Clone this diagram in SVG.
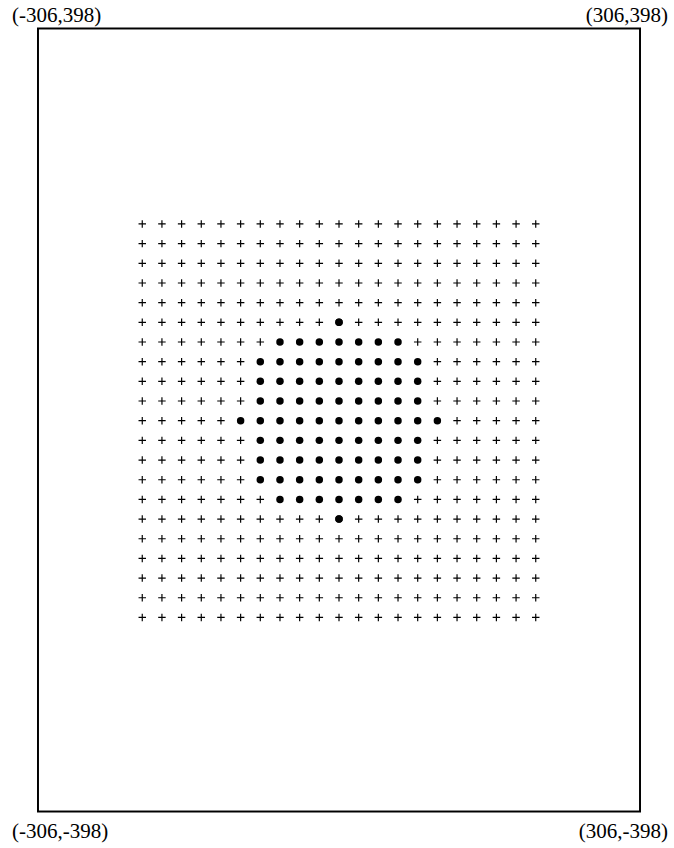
<svg xmlns="http://www.w3.org/2000/svg" width="674" height="848" viewBox="0 0 674 848">
<style>
.lbl{font-family:"Liberation Serif","Times New Roman",serif;font-size:21px;fill:#000}
.frame{fill:none;stroke:#000;stroke-width:2}
.pts{fill:none;stroke:none}
.cross{marker-start:url(#pl);marker-mid:url(#pl);marker-end:url(#pl)}
.dot{marker-start:url(#dt);marker-mid:url(#dt);marker-end:url(#dt)}
</style>
<defs>
<marker id="pl" markerUnits="userSpaceOnUse" markerWidth="10" markerHeight="10" refX="5" refY="5" orient="0" overflow="visible">
<path d="M1.2 5H8.8M5 1.2V8.8" stroke="#000" stroke-width="1.2" fill="none"/>
</marker>
<marker id="dt" markerUnits="userSpaceOnUse" markerWidth="10" markerHeight="10" refX="5" refY="5" orient="0" overflow="visible">
<circle cx="5" cy="5" r="3.8" fill="#000"/>
</marker>
</defs>
<rect width="674" height="848" fill="#fff"/>
<g id="plot" transform="translate(339,420) scale(0.9837)">
<rect id="frame" class="frame" x="-306" y="-398" width="612" height="796"/>
</g>
<g id="grid" transform="translate(339,420.7) scale(0.9837)">
<path id="crosses" class="pts cross" d="M-200 -200h20h20h20h20h20h20h20h20h20h20h20h20h20h20h20h20h20h20h20h20 M-200 -180h20h20h20h20h20h20h20h20h20h20h20h20h20h20h20h20h20h20h20h20 M-200 -160h20h20h20h20h20h20h20h20h20h20h20h20h20h20h20h20h20h20h20h20 M-200 -140h20h20h20h20h20h20h20h20h20h20h20h20h20h20h20h20h20h20h20h20 M-200 -120h20h20h20h20h20h20h20h20h20h20h20h20h20h20h20h20h20h20h20h20 M-200 -100h20h20h20h20h20h20h20h20h20 M20 -100h20h20h20h20h20h20h20h20h20 M-200 -80h20h20h20h20h20h20 M80 -80h20h20h20h20h20h20 M-200 -60h20h20h20h20h20 M100 -60h20h20h20h20h20 M-200 -40h20h20h20h20h20 M100 -40h20h20h20h20h20 M-200 -20h20h20h20h20h20 M100 -20h20h20h20h20h20 M-200 0h20h20h20h20 M120 0h20h20h20h20 M-200 20h20h20h20h20h20 M100 20h20h20h20h20h20 M-200 40h20h20h20h20h20 M100 40h20h20h20h20h20 M-200 60h20h20h20h20h20 M100 60h20h20h20h20h20 M-200 80h20h20h20h20h20h20 M80 80h20h20h20h20h20h20 M-200 100h20h20h20h20h20h20h20h20h20 M20 100h20h20h20h20h20h20h20h20h20 M-200 120h20h20h20h20h20h20h20h20h20h20h20h20h20h20h20h20h20h20h20h20 M-200 140h20h20h20h20h20h20h20h20h20h20h20h20h20h20h20h20h20h20h20h20 M-200 160h20h20h20h20h20h20h20h20h20h20h20h20h20h20h20h20h20h20h20h20 M-200 180h20h20h20h20h20h20h20h20h20h20h20h20h20h20h20h20h20h20h20h20 M-200 200h20h20h20h20h20h20h20h20h20h20h20h20h20h20h20h20h20h20h20h20"/>
<path id="dots" class="pts dot" d="M0 -100h0 M-60 -80h20h20h20h20h20h20 M-80 -60h20h20h20h20h20h20h20h20 M-80 -40h20h20h20h20h20h20h20h20 M-80 -20h20h20h20h20h20h20h20h20 M-100 0h20h20h20h20h20h20h20h20h20h20 M-80 20h20h20h20h20h20h20h20h20 M-80 40h20h20h20h20h20h20h20h20 M-80 60h20h20h20h20h20h20h20h20 M-60 80h20h20h20h20h20h20 M0 100h0"/>
</g>
<g id="labels">
<text class="lbl" x="12" y="22">(-306,398)</text>
<text class="lbl" x="668" y="22" text-anchor="end">(306,398)</text>
<text class="lbl" x="12" y="838">(-306,-398)</text>
<text class="lbl" x="668" y="838" text-anchor="end">(306,-398)</text>
</g>
</svg>
